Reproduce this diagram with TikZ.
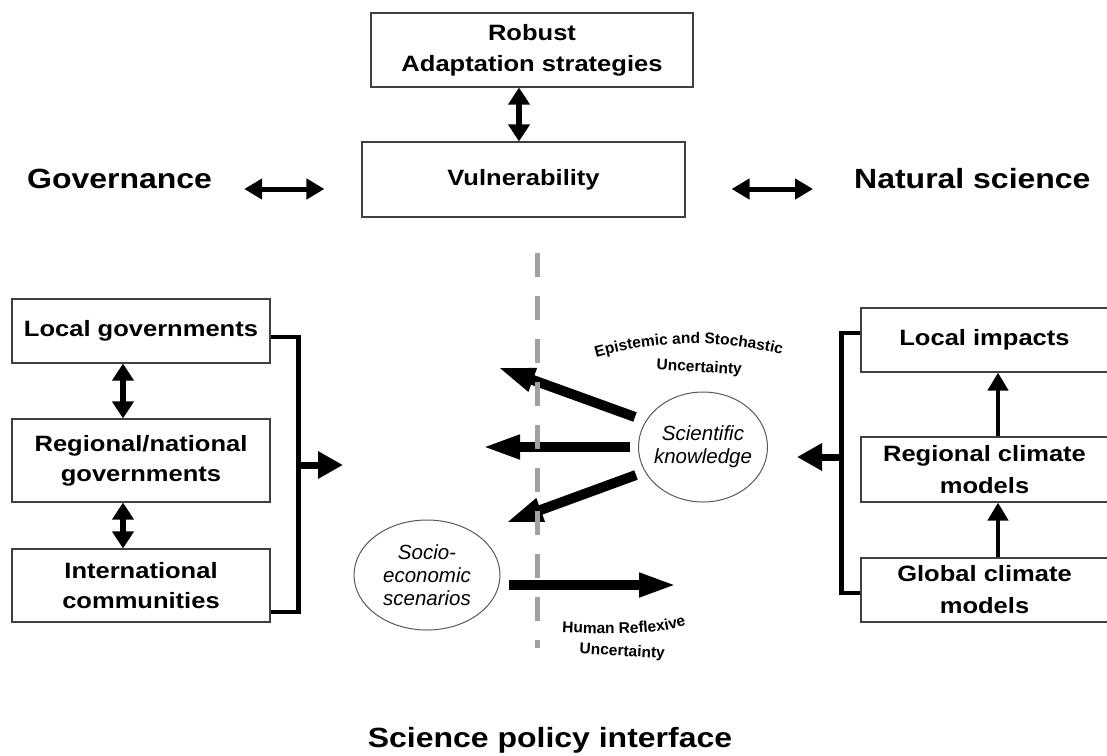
\documentclass[tikz,border=0pt]{standalone}
\usepackage{fontspec}
\setmainfont{Liberation Sans}[FakeStretch=1.15]
\newfontfamily\plainfont{Liberation Sans}
\usetikzlibrary{arrows.meta,calc,shapes.geometric,decorations.text}
\begin{document}
\begin{tikzpicture}[x=1pt,y=-1pt,
  box/.style={draw=black!75, line width=1.2pt, fill=white, align=center,
    font=\fontsize{22.2}{31}\selectfont\bfseries, inner sep=0pt},
  big/.style={font=\fontsize{27.8}{32}\selectfont\bfseries, inner sep=0pt},
  oval/.style={ellipse, draw=black!65, line width=1pt, align=center,
    font=\plainfont\fontsize{20.5}{23}\selectfont\itshape, inner sep=0pt},
  dblv/.style={line width=5.5pt, {Triangle[length=17pt,width=21pt]}-{Triangle[length=17pt,width=21pt]}},
  dblh/.style={line width=5pt, {Triangle[length=18pt,width=20pt]}-{Triangle[length=18pt,width=20pt]}},
  upar/.style={line width=4.5pt, -{Triangle[length=18pt,width=20pt]}},
  brack/.style={line width=4.5pt},
  bkarrow/.style={line width=7pt, -{Triangle[length=25pt,width=26pt]}},
  fat/.style={line width=10pt, -{Triangle[length=38pt,width=22pt]}},
  note/.style={font=\plainfont\fontsize{15.5}{18}\selectfont\bfseries, inner sep=0pt},
]
\fill[white] (0,0) rectangle (1107,755);
\useasboundingbox (0,0) rectangle (1107,755);

% top boxes
\node[box, minimum width=322pt, minimum height=74pt] (robust) at (532,50) {Robust\\Adaptation strategies};
\node[box, minimum width=323pt, minimum height=75pt] (vuln) at (523.5,179.5) {Vulnerability};

\node[big, anchor=base west] (gov) at (27,188) {Governance};
\node[big, anchor=base west] (nat) at (854,188) {Natural science};
\node[big, anchor=base] (spi) at (550,747) {Science policy interface};

% left boxes
\node[box, minimum width=258pt, minimum height=64pt] (local) at (141,331) {Local governments};
\node[box, minimum width=258pt, minimum height=83pt, font=\fontsize{22.2}{30}\selectfont\bfseries] (regnat) at (141,460.5) {Regional/national\\governments};
\node[box, minimum width=258pt, minimum height=73pt, font=\fontsize{22.2}{30}\selectfont\bfseries] (intl) at (141,585.5) {International\\communities};

% right boxes
\node[box, minimum width=247pt, minimum height=64pt] (limp) at (984.5,340) {Local impacts};
\node[box, minimum width=247pt, minimum height=65pt, font=\fontsize{22.2}{32}\selectfont\bfseries] (rcm) at (984.5,469.5) {Regional climate\\models};
\node[box, minimum width=247pt, minimum height=64pt, font=\fontsize{22.2}{32}\selectfont\bfseries] (gcm) at (984.5,590) {Global climate\\models};

% ellipses
\node[oval, minimum width=129pt, minimum height=110pt, inner xsep=-8pt] (sk) at (703,447) {Scientific\\knowledge};
\node[oval, minimum width=146pt, minimum height=110pt] (se) at (427,575) {Socio-\\economic\\scenarios};

% helper coordinates
\coordinate (gy) at (0,189);
\coordinate (va) at (519,0);
\coordinate (lv) at (123,0);
\coordinate (ux) at (998,0);
\coordinate (lbm) at (298,465);
\coordinate (ltip) at (343,465);
\coordinate (rbm) at (842,457);
\coordinate (rtip) at (797,457);
\coordinate (t1) at (497,367);
\coordinate (t2) at (482,447);
\coordinate (t3) at (505,523);
\coordinate (t4) at (677,585);
\coordinate (d1) at (537,253);
\coordinate (d2) at (537,648);

% top arrows
\draw[dblv] (robust.south -| va) -- (vuln.north -| va);
\draw[dblh] ($(gov.east |- gy)+(32,0)$) -- ($(vuln.west |- gy)+(-37,0)$);
\draw[dblh] ($(vuln.east |- gy)+(46,0)$) -- ($(nat.west |- gy)+(-41,0)$);

% left group
\draw[dblv] (local.south -| lv) -- (regnat.north -| lv);
\draw[dblv] (regnat.south -| lv) -- (intl.north -| lv);
\draw[brack] ($(local.east)+(0,6)$) -- ++(28,0) |- ($(intl.east)+(0,26.5)$);
\draw[bkarrow] (lbm) -- (ltip);

% right group
\draw[upar] (rcm.north -| ux) -- (limp.south -| ux);
\draw[upar] (gcm.north -| ux) -- (rcm.south -| ux);
\draw[brack] ($(limp.west)+(0,-7)$) -- ++(-19,0) |- ($(gcm.west)+(0,3)$);
\draw[bkarrow] (rbm) -- (rtip);

% fat arrows
\draw[fat] ($(sk)+(-68,-30)$) -- (t1);
\draw[fat] ($(sk)+(-73,0)$) -- (t2);
\draw[fat] ($(sk)+(-67,28)$) -- (t3);
\draw[fat] ($(se)+(82,10)$) -- (t4);

% dashed interface line
\draw[line width=5pt, draw=black!37, dash pattern=on 24pt off 19pt] (d1) -- (d2);

% uncertainty labels
\path[decorate, decoration={text along path, text align=center,
  text={|\plainfont\fontsize{15.5}{17}\selectfont\bfseries|Epistemic and Stochastic}}]
  (590,359) .. controls (660,339) and (720,339) .. (788,356);
\node[note, rotate=-3, anchor=base] (unc1) at (699,372) {Uncertainty};
\path[decorate, decoration={text along path, text align=center,
  text={|\plainfont\fontsize{15.5}{17}\selectfont\bfseries|Human Reflexive}}]
  (556,632) .. controls (620,635) and (660,635) .. (692,623);
\node[note, rotate=-3, anchor=base] (unc2) at (622,656) {Uncertainty};
\end{tikzpicture}
\end{document}
